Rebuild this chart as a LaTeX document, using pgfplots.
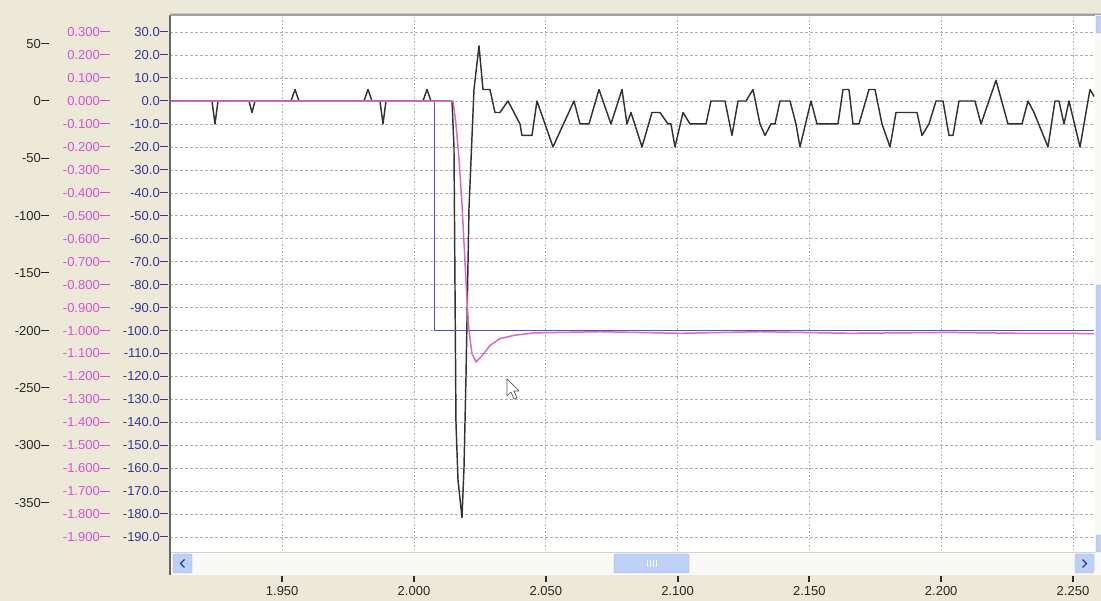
\documentclass[border=0pt]{standalone}
\usepackage{fontspec}
\setmainfont{Liberation Sans}
\usepackage{pgfplots}
\pgfplotsset{compat=1.18}

\definecolor{bgxp}{RGB}{236,233,216}
\definecolor{blueline}{RGB}{80,80,205}
\definecolor{pinkline}{RGB}{222,105,188}
\definecolor{blacklin}{RGB}{50,50,50}
\definecolor{bluelab}{RGB}{55,55,150}
\definecolor{pinklab}{RGB}{222,80,210}
\definecolor{blacklab}{RGB}{40,40,40}
\definecolor{gridc}{RGB}{175,175,175}
\definecolor{sbblue}{RGB}{190,208,246}
\definecolor{sbedge}{RGB}{150,175,230}
\definecolor{sbtrack}{RGB}{249,249,246}
\definecolor{sbarrow}{RGB}{40,60,140}

\newcommand\tk[1]{\rule[0.33em]{#1}{0.9pt}}

\pgfplotsset{
  base/.style={
    scale only axis, width=925pt, height=560pt,
    at={(170pt,26pt)}, anchor=south west,
    xmin=1.90744, xmax=2.25835,
    axis line style={draw=none},
    major tick length=0pt, minor tick num=0,
    tick pos=left,
    tick label style={font=\fontsize{13}{15}\selectfont},
    yticklabel style={anchor=east, inner sep=0pt},
    clip=true,
  },
}

\begin{document}
\begin{tikzpicture}
\fill[bgxp] (0pt,0pt) rectangle (1101pt,601pt);
\useasboundingbox (0pt,0pt) rectangle (1101pt,601pt);

% axis 1: background, grid, blue tick labels, x tick labels
\begin{axis}[base,
  ymin=-206.5, ymax=37.5,
  axis background/.style={fill=white},
  xtick={1.95,2,2.05,2.1,2.15,2.2,2.25},
  xticklabels={1.950,2.000,2.050,2.100,2.150,2.200,2.250},
  xticklabel style={anchor=north, inner sep=0pt, yshift=-11pt, text=blacklab},
  ytick={-190,-180,-170,-160,-150,-140,-130,-120,-110,-100,-90,-80,-70,-60,-50,-40,-30,-20,-10,0,10,20,30},
  yticklabels={-190.0\tk{8pt},-180.0\tk{8pt},-170.0\tk{8pt},-160.0\tk{8pt},-150.0\tk{8pt},-140.0\tk{8pt},-130.0\tk{8pt},-120.0\tk{8pt},-110.0\tk{8pt},-100.0\tk{8pt},-90.0\tk{8pt},-80.0\tk{8pt},-70.0\tk{8pt},-60.0\tk{8pt},-50.0\tk{8pt},-40.0\tk{8pt},-30.0\tk{8pt},-20.0\tk{8pt},-10.0\tk{8pt},0.0\tk{8pt},10.0\tk{8pt},20.0\tk{8pt},30.0\tk{8pt}},
  yticklabel style={xshift=-2pt, text=bluelab},
  xmajorgrids, ymajorgrids,
  x grid style={gridc, line width=0.7pt, dash pattern=on 1.5pt off 2pt},
  y grid style={gridc, line width=0.7pt, dash pattern=on 2.5pt off 2.5pt},
]
\addplot[draw=none] coordinates {(2,0)};
\end{axis}

% axis 2: black series (left-most scale)
\begin{axis}[base,
  ymin=-413, ymax=74.94,
  xtick=\empty,
  ytick={-350,-300,-250,-200,-150,-100,-50,0,50},
  yticklabels={-350\tk{8pt},-300\tk{8pt},-250\tk{8pt},-200\tk{8pt},-150\tk{8pt},-100\tk{8pt},-50\tk{8pt},0\tk{8pt},50\tk{8pt}},
  yticklabel style={xshift=-121pt, text=blacklab},
]
\addplot[blacklin, line width=1.45pt, line join=round] coordinates {
(1.90744,0) (1.92337,0) (1.92451,-20) (1.92564,0) (1.93740,0) (1.93854,-10) (1.93968,0)
(1.95334,0) (1.95486,10) (1.95637,0) (1.98103,0) (1.98255,10) (1.98407,0) (1.98710,0)
(1.98824,-20) (1.98938,0) (2.00341,0) (2.00493,10) (2.00645,0) (2.01442,0) (2.01517,-40)
(2.01593,-280) (2.01669,-330) (2.01821,-363) (2.01897,-320) (2.01973,-240) (2.02086,-94)
(2.02276,10) (2.02466,48) (2.02618,10) (2.02883,10) (2.03073,-10) (2.03263,-10) (2.03566,0)
(2.04021,-20) (2.04097,-30) (2.04477,-30) (2.04666,0) (2.05273,-40) (2.06070,0) (2.06297,-20)
(2.06639,-20) (2.07018,10) (2.07473,-20) (2.07891,10) (2.08080,-20) (2.08232,-10) (2.08650,-40)
(2.09029,-10) (2.09332,-10) (2.09636,-20) (2.09750,-20) (2.09901,-40) (2.10205,-10) (2.10470,-20)
(2.11077,-20) (2.11267,0) (2.11798,0) (2.12064,-30) (2.12291,0) (2.12595,0) (2.12860,10)
(2.13126,-20) (2.13316,-30) (2.13543,-20) (2.13695,-20) (2.13885,0) (2.14264,0) (2.14492,-20)
(2.14643,-40) (2.15061,0) (2.15288,-20) (2.16085,-20) (2.16275,10) (2.16502,10) (2.16654,-20)
(2.16882,-20) (2.17261,10) (2.17489,10) (2.17754,-20) (2.18058,-40) (2.18285,-10) (2.19082,-10)
(2.19272,-30) (2.19537,-20) (2.19803,0) (2.20068,0) (2.20296,-30) (2.20448,-30) (2.20675,0)
(2.21282,0) (2.21510,-20) (2.22079,18) (2.22534,-20) (2.23065,-20) (2.23293,0) (2.23520,-10)
(2.24052,-40) (2.24317,0) (2.24469,0) (2.24659,-20) (2.24848,0) (2.25266,-40) (2.25645,10)
(2.25800,4)
};
\end{axis}

% axis 3: blue series
\begin{axis}[base,
  ymin=-206.5, ymax=37.5,
  xtick=\empty, ytick=\empty,
]
\addplot[blueline, line width=1.8pt] coordinates {
(1.90744,0) (2.0078,0) (2.0078,-100) (2.2580,-100)
};
\end{axis}

% axis 4: pink series
\begin{axis}[base,
  ymin=-2.065, ymax=0.375,
  xtick=\empty,
  ytick={-1.9,-1.8,-1.7,-1.6,-1.5,-1.4,-1.3,-1.2,-1.1,-1.0,-0.9,-0.8,-0.7,-0.6,-0.5,-0.4,-0.3,-0.2,-0.1,0,0.1,0.2,0.3},
  yticklabels={-1.900\tk{10pt},-1.800\tk{10pt},-1.700\tk{10pt},-1.600\tk{10pt},-1.500\tk{10pt},-1.400\tk{10pt},-1.300\tk{10pt},-1.200\tk{10pt},-1.100\tk{10pt},-1.000\tk{10pt},-0.900\tk{10pt},-0.800\tk{10pt},-0.700\tk{10pt},-0.600\tk{10pt},-0.500\tk{10pt},-0.400\tk{10pt},-0.300\tk{10pt},-0.200\tk{10pt},-0.100\tk{10pt},0.000\tk{10pt},0.100\tk{10pt},0.200\tk{10pt},0.300\tk{10pt}},
  yticklabel style={xshift=-60pt, text=pinklab},
]
\addplot[pinkline, line width=1.5pt, line join=round] coordinates {
(1.90744,0) (2.01480,0) (2.01593,-0.10) (2.01707,-0.25) (2.01821,-0.45) (2.01935,-0.70)
(2.02011,-0.87) (2.02086,-1.00) (2.02200,-1.10) (2.02352,-1.137) (2.02580,-1.11)
(2.02883,-1.065) (2.03263,-1.035) (2.03832,-1.02) (2.04590,-1.01) (2.07056,-1.005)
(2.10091,-1.012) (2.13126,-1.005) (2.16540,-1.012) (2.20334,-1.008) (2.22989,-1.012)
(2.25800,-1.013)
};
\end{axis}

% frame
\draw[gray!80!black, line width=1.6pt] (170pt,26pt) -- (170pt,586pt);
\draw[gray!75, line width=1.4pt] (170pt,586pt) -- (1101pt,586pt);
\draw[gray!40, line width=0.8pt] (170pt,588pt) -- (1101pt,588pt);

% x tick marks below the scrollbar
\foreach \t in {282,414,546,678,809,941,1073}
  \fill[blacklab] ([xshift=-0.8pt]\t pt,18.5pt) rectangle ([xshift=0.8pt]\t pt,24.5pt);

% horizontal scrollbar
\fill[sbtrack] (171pt,26pt) rectangle (1095pt,49pt);
\draw[gray!35, line width=0.6pt] (171pt,49pt) -- (1095pt,49pt);
\draw[sbedge, fill=sbblue, rounded corners=2pt] (173pt,28pt) rectangle (192pt,47pt);
\draw[sbarrow, line width=1.3pt] (184.5pt,41.5pt) -- (180.5pt,37.5pt) -- (184.5pt,33.5pt);
\draw[sbedge, fill=sbblue, rounded corners=2pt] (1075pt,28pt) rectangle (1094pt,47pt);
\draw[sbarrow, line width=1.3pt] (1082.5pt,41.5pt) -- (1086.5pt,37.5pt) -- (1082.5pt,33.5pt);
\draw[sbedge, fill=sbblue, rounded corners=2pt] (614pt,28pt) rectangle (689pt,47pt);
\foreach \g in {647,650,653,656} \draw[white, line width=0.8pt] (\g pt,34pt) -- (\g pt,41pt);

% vertical scrollbar
\fill[sbtrack] (1095pt,26pt) rectangle (1101pt,586pt);
\draw[sbedge, fill=sbblue, rounded corners=2pt] (1096pt,568pt) rectangle (1106pt,585pt);
\draw[sbedge, fill=sbblue, rounded corners=2pt] (1096pt,161pt) rectangle (1106pt,316pt);
\draw[sbedge, fill=sbblue, rounded corners=2pt] (1096pt,49pt) rectangle (1106pt,66pt);

% mouse pointer
\draw[gray!70!black, fill=white, line width=0.7pt, line join=round]
  (507pt,222pt) -- (507pt,205pt) -- (511pt,209pt) -- (514pt,202pt) -- (517pt,203pt)
  -- (514pt,210pt) -- (519pt,210pt) -- cycle;
\end{tikzpicture}
\end{document}
